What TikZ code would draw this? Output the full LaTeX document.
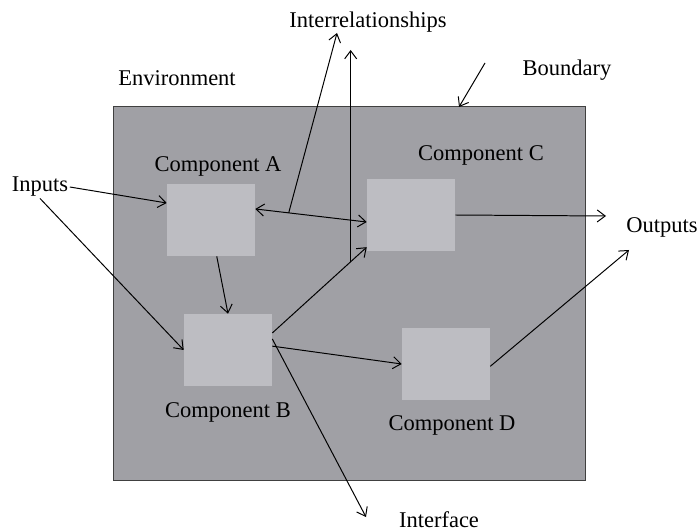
\documentclass[tikz,border=0pt]{standalone}
\usepackage{fontspec}
\setmainfont{Liberation Serif}
\usepackage{xcolor}
\usepackage{tikz}
\usetikzlibrary{positioning,arrows.meta}
\definecolor{envgray}{RGB}{160,160,165}
\definecolor{partgray}{RGB}{189,189,194}
\tikzset{
    sysenv/.style={draw=black!75, fill=envgray, minimum width=11.8cm, minimum height=9.35cm, inner sep=0pt},
    syspart/.style={fill=partgray, minimum width=2.2cm, minimum height=1.8cm, inner sep=0pt},
    systext/.style={font=\fontsize{16}{19}\selectfont, inner sep=1pt},
    sysarrow/.style={draw, -{Straight Barb[length=2mm,width=3mm]}, line width=0.7pt},
    sysboth/.style={draw, {Straight Barb[length=2mm,width=3mm]}-{Straight Barb[length=2mm,width=3mm]}, line width=0.7pt}
}

\begin{document}
\begin{tikzpicture}[x=0.025cm, y=-0.025cm]
    \useasboundingbox (0,0) rectangle (699,531);
    \node[sysenv] (env) at (349,293) {};
    \node[syspart] (compA) at (211,220) {};
    \node[syspart] (compC) at (411,215) {};
    \node[syspart] (compB) at (228,350) {};
    \node[syspart] (compD) at (446,364) {};

    \node[systext] (labA) at (218,166) {Component A};
    \node[systext] (labC) at (481,155) {Component C};
    \node[systext] (labB) at (228,412) {Component B};
    \node[systext] (labD) at (452,425) {Component D};
    \node[systext] (environment) at (177,78) {Environment};
    \node[systext] (boundary) at (567,70) {Boundary};
    \node[systext] (relations) at (368,22) {Interrelationships};
    \node[systext] (inputs) at (40,187) {Inputs};
    \node[systext] (outputs) at (662,227) {Outputs};
    \node[systext] (interface) at (439,520) {Interface};

    \coordinate (relTipA) at (337,33);
    \coordinate (relTipB) at (350,50);
    \coordinate (ifaceTip) at (366,517);
    \coordinate (outTipC) at (606,216);
    \coordinate (outTipD) at (629,250);
    \coordinate (bndTail) at (485,63);
    \coordinate (bndTip) at (459,107);

    \draw[sysarrow] (inputs.east) -- (compA.159);
    \draw[sysarrow] (inputs.south) -- (compB.west);
    \draw[sysarrow] (compA.-81) -- (compB.north);
    \draw[sysboth] (compA.14) -- coordinate[pos=0.3] (tapA) (compC.-171);
    \draw[sysarrow] (tapA) -- (relTipA);
    \draw[sysarrow] (compB.21) -- coordinate[pos=0.83] (tapB) (compC.216);
    \draw[sysarrow] (tapB) -- (tapB |- relTipB);
    \draw[sysarrow] (compB.5) -- (compD.west);
    \draw[sysarrow] (compB.14) -- (ifaceTip);
    \draw[sysarrow] (compC.east) -- (outTipC);
    \draw[sysarrow] (compD.-3) -- (outTipD);
    \draw[sysarrow] (bndTail) -- (bndTip);
\end{tikzpicture}
\end{document}
